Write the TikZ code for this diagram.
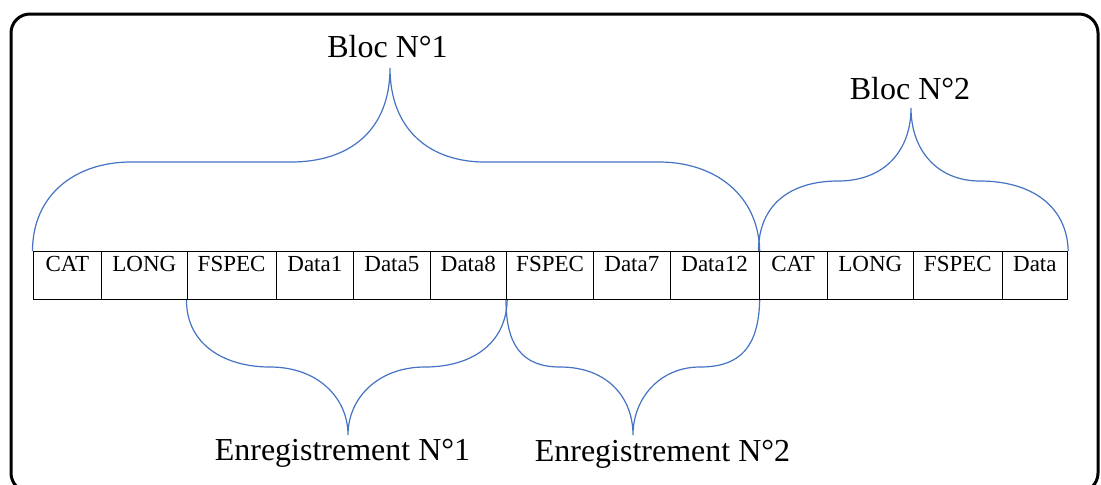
\documentclass[tikz,border=0pt]{standalone}
\usepackage{fontspec}
\setmainfont{Liberation Serif}
\usepackage{tikz}
\definecolor{braceblue}{HTML}{4472C4}

\begin{document}
\begin{tikzpicture}[x=0.5pt,y=-0.5pt,
    cellbox/.style={draw, line width=0.6pt, anchor=north west, inner sep=0pt,
      text height=10pt, text depth=14pt, font=\fontsize{11.5}{13}\selectfont},
    blocktext/.style={anchor=base, inner sep=0pt, font=\fontsize{16}{19}\selectfont},
    curly/.style={draw=braceblue, line width=0.6pt}]
            \useasboundingbox (0,0) rectangle (1101,484);
            % Frame
            \draw[line width=1.5pt, rounded corners=9.5pt] (11,14) rectangle (1098,492);
            % Bloc 1 cells
            \node[cellbox, minimum width=34.25pt] (cat1) at (32.5,251) {CAT};
            \node[cellbox, minimum width=42.75pt] (long1) at (101,251) {LONG};
            \node[cellbox, minimum width=44.5pt] (fspec1) at (186.5,251) {FSPEC};
            \node[cellbox, minimum width=38.75pt] (data1) at (275.5,251) {Data1};
            \node[cellbox, minimum width=38.25pt] (data5) at (353,251) {Data5};
            \node[cellbox, minimum width=38.25pt] (data8) at (429.5,251) {Data8};
            \node[cellbox, minimum width=43.5pt] (fspec2) at (506,251) {FSPEC};
            \node[cellbox, minimum width=38.25pt] (data7) at (593,251) {Data7};
            \node[cellbox, minimum width=44.5pt] (data12) at (669.5,251) {Data12};
            % Bloc 2 cells
            \node[cellbox, minimum width=34pt] (cat2) at (758.5,251) {CAT};
            \node[cellbox, minimum width=43.25pt] (long2) at (826.5,251) {LONG};
            \node[cellbox, minimum width=44.25pt] (fspec3) at (913,251) {FSPEC};
            \node[cellbox, minimum width=32.75pt] (data) at (1001.5,251) {Data};
            % Labels
            \node[blocktext] (bloc1) at (387.5,57) {Bloc N°1};
            \node[blocktext] (bloc2) at (910,99) {Bloc N°2};
            \node[blocktext] (enr1) at (342.5,460) {Enregistrement N°1};
            \node[blocktext] (enr2) at (662.5,461) {Enregistrement N°2};
            % Brace tips
            \coordinate (tip1) at (390,68);
            \coordinate (tip2) at (911,108);
            \coordinate (tip3) at (348,435);
            \coordinate (tip4) at (633,435);
            % Bloc N°1 brace
            \draw[curly] (cat1.north west) .. controls (32.5,195) and (75,162) .. (131,162) -- (291,162)
            .. controls (350,162) and (390,130) .. (tip1) .. controls (390,130) and (430,162) .. (485,162)
            -- (659,162) .. controls (715,162) and (758.5,195) .. (data12.north east);
            % Bloc N°2 brace
            \draw[curly] (cat2.north west) .. controls (758.5,205) and (790,181) .. (838,181)
            .. controls (885,181) and (911,150) .. (tip2) .. controls (911,150) and (937,181) .. (980,181)
            .. controls (1030,181) and (1067,205) .. (data.north east);
            % Enregistrement N°1 brace
            \draw[curly] (fspec1.south west) .. controls (186.5,345) and (225,367) .. (270,367)
            .. controls (318,367) and (348,398) .. (tip3) .. controls (348,398) and (378,367) .. (425,367)
            .. controls (470,367) and (506,345) .. (data8.south east);
            % Enregistrement N°2 brace
            \draw[curly] (fspec2.south west) .. controls (506,345) and (522,367) .. (560,367)
            .. controls (608,367) and (633,398) .. (tip4) .. controls (633,398) and (660,367) .. (700,367)
            .. controls (742,367) and (758.5,345) .. (data12.south east);
        \end{tikzpicture}
\end{document}
